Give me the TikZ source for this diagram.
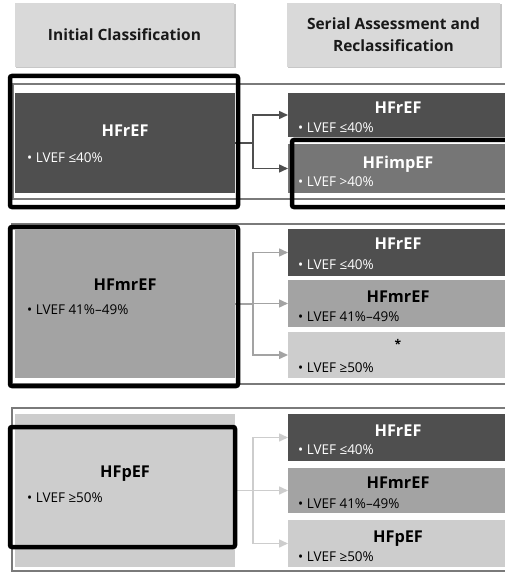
\documentclass[tikz,border=0pt]{standalone}
\usepackage{fontspec}
\setmainfont{Open Sans}
\usetikzlibrary{arrows.meta}
\definecolor{cdark}{HTML}{4F4F4F}
\definecolor{cimp}{HTML}{767676}
\definecolor{cmed}{HTML}{A3A3A3}
\definecolor{clight}{HTML}{CDCDCD}
\definecolor{chead}{HTML}{D9D9D9}
\definecolor{cframe}{HTML}{7A7A7A}
\begin{document}
\begin{tikzpicture}[x=1pt,y=-1pt,
  box/.style={rectangle,inner sep=0pt,outer sep=0pt,draw=none},
  hdr/.style={box,fill=chead,minimum height=64pt,font=\fontsize{15.5}{22}\selectfont\bfseries,align=center,text=black!90},
  ttl/.style={anchor=base,inner sep=0pt,font=\fontsize{16.3}{18}\selectfont\bfseries},
  bul/.style={anchor=base west,inner sep=0pt,font=\fontsize{13.5}{15}\selectfont},
  frame/.style={draw=cframe,line width=1.4pt},
  hl/.style={draw=black,line width=4.5pt,rounded corners=2pt},
  conn/.style={line width=1.5pt,-{Triangle[length=9pt,width=8pt]}}
]
\useasboundingbox (0,0) rectangle (504,572);
\fill[white] (0,0) rectangle (504,572);

% headers
\fill[black!22] (16,4) rectangle (236,68);
\node[hdr,minimum width=219pt] (h1) at (124.5,35) {Initial Classification};
\fill[black!22] (288,4) rectangle (502,68);
\node[hdr,minimum width=213pt] (h2) at (393.5,35) {Serial Assessment and\\Reclassification};

% group frames
\draw[frame] (13,84) rectangle (520,199);
\draw[frame] (12,224) rectangle (520,384);
\draw[frame] (12,408) rectangle (520,571);

% ---- group 1
\node[box,fill=cdark,minimum width=220pt,minimum height=100pt] (L1) at (125,143) {};
\node[ttl,text=white] (L1t) at (125,137) {HFrEF};
\node[bul,text=white] (L1b) at (27,163) {• LVEF ≤40\%};
\node[box,fill=cdark,minimum width=220pt,minimum height=44pt] (R11) at (398,115) {};
\node[ttl,text=white] (R11t) at (398,114) {HFrEF};
\node[bul,text=white] (R11b) at (298,133) {• LVEF ≤40\%};
\node[box,fill=cimp,minimum width=220pt,minimum height=49pt] (R12) at (398,168.5) {};
\node[ttl,text=white] (R12t) at (398,168) {HFimpEF};
\node[bul,text=white] (R12b) at (298,186) {• LVEF >40\%};
\draw[conn,draw=cdark] (L1.east) -- ++(18,0) |- (R11.west);
\draw[conn,draw=cdark] (L1.east) -- ++(18,0) |- (R12.west);

% ---- group 2
\node[box,fill=cmed,minimum width=220pt,minimum height=148pt] (L2) at (125,304) {};
\node[ttl] (L2t) at (125,290) {HFmrEF};
\node[bul] (L2b) at (27,314) {• LVEF 41\%–49\%};
\node[box,fill=cdark,minimum width=220pt,minimum height=47pt] (R21) at (398,252.5) {};
\node[ttl,text=white] (R21t) at (398,249) {HFrEF};
\node[bul,text=white] (R21b) at (298,269) {• LVEF ≤40\%};
\node[box,fill=cmed,minimum width=220pt,minimum height=47pt] (R22) at (398,303.5) {};
\node[ttl] (R22t) at (398,302) {HFmrEF};
\node[bul] (R22b) at (298,321) {• LVEF 41\%–49\%};
\node[box,fill=clight,minimum width=220pt,minimum height=46pt] (R23) at (398,355) {};
\node[inner sep=0pt,font=\fontsize{12}{14}\selectfont\bfseries] (R23t) at (398,344) {*};
\node[bul] (R23b) at (298,372) {• LVEF ≥50\%};
\draw[conn,draw=cmed] (L2.east) -- ++(18,0) |- (R21.west);
\draw[conn,draw=cmed] (L2.east) -- ++(18,0) |- (R22.west);
\draw[conn,draw=cmed] (L2.east) -- ++(18,0) |- (R23.west);

% ---- group 3
\node[box,fill=clight,minimum width=220pt,minimum height=153pt] (L3) at (125,490.5) {};
\node[ttl] (L3t) at (125,477) {HFpEF};
\node[bul] (L3b) at (27,502) {• LVEF ≥50\%};
\node[box,fill=cdark,minimum width=220pt,minimum height=47pt] (R31) at (398,437.5) {};
\node[ttl,text=white] (R31t) at (398,436) {HFrEF};
\node[bul,text=white] (R31b) at (298,454) {• LVEF ≤40\%};
\node[box,fill=cmed,minimum width=220pt,minimum height=45pt] (R32) at (398,490.5) {};
\node[ttl] (R32t) at (398,488) {HFmrEF};
\node[bul] (R32b) at (298,508) {• LVEF 41\%–49\%};
\node[box,fill=clight,minimum width=220pt,minimum height=47pt] (R33) at (398,543.5) {};
\node[ttl] (R33t) at (398,542) {HFpEF};
\node[bul] (R33b) at (298,561) {• LVEF ≥50\%};
\draw[conn,draw=clight] (L3.east) -- ++(18,0) |- (R31.west);
\draw[conn,draw=clight] (L3.east) -- ++(18,0) |- (R32.west);
\draw[conn,draw=clight] (L3.east) -- ++(18,0) |- (R33.west);

% highlight boxes
\draw[hl] (10,76) rectangle (238,207);
\draw[hl] (292,140) rectangle (510,207);
\draw[hl] (10,227) rectangle (238,386);
\draw[hl] (10,427) rectangle (235,547);
\end{tikzpicture}
\end{document}
